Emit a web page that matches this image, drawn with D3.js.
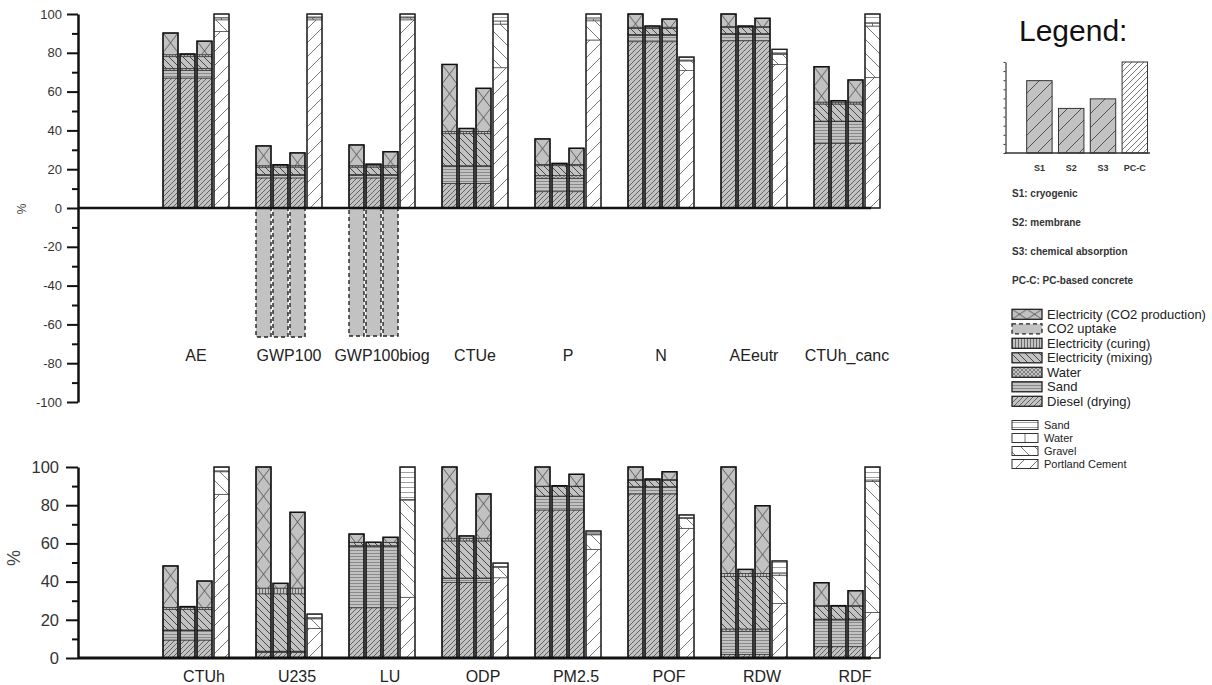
<!DOCTYPE html>
<html>
<head>
<meta charset="utf-8">
<style>
  body { margin: 0; background: #fff; }
  svg { font-family: 'Liberation Sans', Arial, sans-serif; }
</style>
</head>
<body>
<svg width="1212" height="685"></svg>
<script src="https://d3js.org/d3.v7.min.js"></script>
<script>
// ---- data (%) ----
const scenarios = ["S1", "S2", "S3", "PC-C"];

const topCategories = ["AE", "GWP100", "GWP100biog", "CTUe", "P", "N", "AEeutr", "CTUh_canc"];
// S1-S3 layers shared by the three scenarios (bottom to top)
const topDiesel  = [67, 15.5, 15.5, 12.7, 8.4, 85.7, 86.2, 33.3];
const topSand    = [4, 1.3, 1.3, 8.6, 6.9, 3.3, 3.3, 11.2];
const topWater   = [1, 0.5, 0.5, 0.5, 1.5, 0.5, 0.5, 0.3];
const topMixing  = [6, 3.8, 3.8, 16.5, 5, 3.1, 3, 8.8];
const topCuring  = [1, 0.7, 0.7, 1.2, 0.7, 0.6, 0.5, 1];
// Electricity (CO2 production) for [S1, S2, S3]
const topCO2Prod = [[11.2, 0.4, 7], [10.2, 0.5, 6.6], [10.7, 0.8, 7.2], [34.5, 1.5, 22.2],
                    [13.1, 0.5, 8.3], [6.8, 0.6, 4.2], [6.5, 0.3, 4.3], [18.2, 0.7, 11.4]];
const topUptake  = [0, -66.5, -66, 0, 0, 0, 0, 0];
// PC-based concrete
const topCement  = [91, 97, 97, 72.3, 86.6, 70.8, 74, 67.2];
const topGravel  = [6, 1, 1, 22.5, 9.9, 5, 5.2, 26.6];
const topPcWater = [1, 0.5, 0.5, 1.6, 1, 0.5, 0.5, 1.5];
const topPcSand  = [2, 1.5, 1.5, 3.6, 2.5, 1.5, 2.1, 4.7];

const botCategories = ["CTUh", "U235", "LU", "ODP", "PM2.5", "POF", "RDW", "RDF"];
const botDiesel  = [9.4, 3, 26.3, 39.6, 77.5, 85.9, 1.9, 5.9];
const botSand    = [4.9, 0.3, 32, 2.1, 7, 3.5, 11.9, 14];
const botWater   = [0.4, 0.3, 0.5, 0.2, 0.3, 0.3, 1.4, 0.5];
const botMixing  = [10.8, 30, 1.6, 19.4, 4.9, 3.3, 27.4, 6.5];
const botCuring  = [1, 3, 0.2, 1.4, 0.3, 0.5, 1.7, 0.5];
const botCO2Prod = [[21.7, 0.4, 13.8], [63.4, 2.5, 39.7], [4.3, 0, 2.6], [37.3, 1.2, 23.2],
                    [10, 0.2, 6.2], [6.5, 0.2, 4], [55.7, 2.1, 35.4], [12, 0, 7.8]];
const botUptake  = [0, 0, 0, 0, 0, 0, 0, 0];
const botCement  = [85.7, 15.5, 31.8, 42, 56.9, 67.9, 28.6, 23.9];
const botGravel  = [11.8, 5, 50.9, 5.5, 7.6, 5.2, 14.5, 68.5];
const botPcWater = [0.5, 0.5, 0.3, 0.5, 0.5, 0.3, 1, 0.8];
const botPcSand  = [2, 2, 17, 1.7, 1.5, 1.5, 6.7, 6.8];

// mini legend chart
const legendValues = [79.5, 49, 59.5, 100];
const legendNotes = ["S1: cryogenic", "S2: membrane", "S3: chemical absorption", "PC-C: PC-based concrete"];
const legendS  = ["Electricity (CO2 production)", "CO2 uptake", "Electricity (curing)",
                  "Electricity (mixing)", "Water", "Sand", "Diesel (drying)"];
const legendPC = ["Sand", "Water", "Gravel", "Portland Cement"];

// ---- patterns ----
let svg = d3.select("svg");
let defs = svg.append("defs");
const gray = "#c2c2c2";
let pid = 0;

function pattern(w, h, bg, d, stroke, sw, x, y) {
    let id = "p" + (pid++);
    let p = defs.append("pattern").attr("id", id)
        .attr("patternUnits", "userSpaceOnUse")
        .attr("width", w).attr("height", h)
        .attr("x", x || 0).attr("y", y || 0);
    p.append("rect").attr("width", w).attr("height", h).attr("fill", bg);
    if (d) p.append("path").attr("d", d).attr("fill", "none")
        .attr("stroke", stroke).attr("stroke-width", sw);
    return "url(#" + id + ")";
}

const fDiesel = pattern(5, 5, gray, "M-1,1L1,-1M0,5L5,0M4,6L6,4", "#4a4a4a", 0.8);
const fSand   = pattern(4, 3, gray, "M0,1.5H4", "#7a7a7a", 0.8);
const fWater  = pattern(4, 4, gray, "M0,0L4,4M4,0L0,4", "#555", 0.6);
const fMixing = pattern(7, 7, gray, "M0,0L7,7M-1,6L1,8M6,-1L8,1", "#3a3a3a", 0.9);
const fCuring = pattern(3, 3, gray, "M1.5,0V3", "#444", 0.7);
const fCement = pattern(14, 14, "#fff", "M0,14L14,0M-2,2L2,-2M12,16L16,12", "#555", 0.8);
const fGravel = pattern(14, 14, "#fff", "M0,0L14,14M-2,12L2,16M12,-2L16,2", "#555", 0.8);
const fPcSand = pattern(5, 5, "#fff", "M0,2.5H5", "#777", 0.7);
// bar-aligned patterns
const fCO2 = (x, y, w) => pattern(w, w * 1.3, gray, `M0,0L${w},${w * 1.3}M${w},0L0,${w * 1.3}`, "#444", 0.8, x, y);
const fPcWater = (x, w) => pattern(w, 10, "#fff", `M${w / 2},0V10`, "#555", 0.8, x, 0);

// ---- charts ----
let x1 = d3.scaleBand().domain(scenarios).range([13.5, 79.5]).paddingInner(2 / 17);

function drawChart(cfg) {
    let g = svg.append("g");
    let y = cfg.y;
    let x0 = d3.scaleBand().domain(cfg.cats).range([149.5, 893.5]);
    let bw = x1.bandwidth();

    cfg.cats.forEach((c, i) => {
        ["S1", "S2", "S3"].forEach((s, j) => {
            let bx = x0(c) + x1(s);
            let segs = [];
            let acc = 0;
            [[cfg.diesel, fDiesel], [cfg.sand, fSand], [cfg.water, fWater],
             [cfg.mixing, fMixing], [cfg.curing, fCuring]].forEach(([arr, f]) => {
                segs.push({ v0: acc, v1: acc + arr[i], fill: f });
                acc += arr[i];
            });
            let co2 = cfg.co2[i][j];
            if (co2 > 0) segs.push({ v0: acc, v1: acc + co2, fill: fCO2(bx, y(acc + co2), bw) });
            acc += co2;

            g.selectAll(null).data(segs.filter(d => d.v1 > d.v0)).join("rect")
                .attr("x", bx).attr("width", bw)
                .attr("y", d => y(d.v1)).attr("height", d => y(d.v0) - y(d.v1))
                .attr("fill", d => d.fill)
                .attr("stroke", "#333").attr("stroke-width", 0.7);
            g.append("rect").attr("x", bx).attr("width", bw)
                .attr("y", y(acc)).attr("height", y(0) - y(acc))
                .attr("fill", "none").attr("stroke", "#111").attr("stroke-width", 1.5);

            if (cfg.uptake[i] < 0) {
                g.append("rect").attr("x", bx).attr("width", bw)
                    .attr("y", y(0)).attr("height", y(cfg.uptake[i]) - y(0))
                    .attr("fill", gray).attr("stroke", "#222")
                    .attr("stroke-width", 1.4).attr("stroke-dasharray", "4,3");
            }
        });

        // PC-based concrete
        let bx = x0(c) + x1("PC-C");
        let segs = [];
        let acc = 0;
        [[cfg.cement, fCement], [cfg.gravel, fGravel], [cfg.pcWater, fPcWater(bx, bw)],
         [cfg.pcSand, fPcSand]].forEach(([arr, f]) => {
            segs.push({ v0: acc, v1: acc + arr[i], fill: f });
            acc += arr[i];
        });
        g.selectAll(null).data(segs.filter(d => d.v1 > d.v0)).join("rect")
            .attr("x", bx).attr("width", bw)
            .attr("y", d => y(d.v1)).attr("height", d => y(d.v0) - y(d.v1))
            .attr("fill", d => d.fill)
            .attr("stroke", "#444").attr("stroke-width", 0.7);
        g.append("rect").attr("x", bx).attr("width", bw)
            .attr("y", y(acc)).attr("height", y(0) - y(acc))
            .attr("fill", "none").attr("stroke", "#222").attr("stroke-width", 1.4);

        // category label
        g.append("text").attr("x", x0(c) + x0.bandwidth() / 2 + cfg.labelShift)
            .attr("y", cfg.labelY).attr("text-anchor", "middle")
            .attr("font-size", 16).attr("fill", "#222").text(c);
    });

    // zero line
    g.append("line").attr("x1", 78).attr("x2", 871)
        .attr("y1", y(0)).attr("y2", y(0))
        .attr("stroke", "#111").attr("stroke-width", cfg.zeroWidth);

    // y axis
    let [lo, hi] = y.domain();
    let major = g.append("g").attr("transform", "translate(78,0)")
        .call(d3.axisLeft(y).tickValues(d3.range(lo, hi + 1, 20))
            .tickSize(cfg.tick).tickPadding(cfg.tickPad).tickSizeOuter(0).tickFormat(d => d));
    major.select(".domain").attr("stroke", "#111").attr("stroke-width", 2.5);
    major.selectAll(".tick line").attr("stroke", "#111").attr("stroke-width", 2);
    major.selectAll(".tick text").attr("font-size", cfg.fontSize).attr("fill", "#333")
        .attr("font-family", "'Liberation Sans', Arial, sans-serif");
    let minor = g.append("g").attr("transform", "translate(78,0)")
        .call(d3.axisLeft(y).tickValues(d3.range(lo + 10, hi, 20)).tickSize(6).tickFormat(""));
    minor.select(".domain").remove();
    minor.selectAll(".tick line").attr("stroke", "#111").attr("stroke-width", 2);

    g.append("text").attr("transform", `translate(${cfg.pctX},${cfg.pctY}) rotate(-90)`)
        .attr("text-anchor", "middle").attr("font-size", cfg.pctSize).attr("fill", "#444").text("%");
}

drawChart({
    cats: topCategories, y: d3.scaleLinear().domain([-100, 100]).range([402, 14]),
    diesel: topDiesel, sand: topSand, water: topWater, mixing: topMixing, curing: topCuring,
    co2: topCO2Prod, uptake: topUptake,
    cement: topCement, gravel: topGravel, pcWater: topPcWater, pcSand: topPcSand,
    labelY: 361, labelShift: 0, zeroWidth: 2.5, tick: 11, tickPad: 5, fontSize: 13,
    pctX: 26, pctY: 209, pctSize: 12
});

drawChart({
    cats: botCategories, y: d3.scaleLinear().domain([0, 100]).range([658, 467]),
    diesel: botDiesel, sand: botSand, water: botWater, mixing: botMixing, curing: botCuring,
    co2: botCO2Prod, uptake: botUptake,
    cement: botCement, gravel: botGravel, pcWater: botPcWater, pcSand: botPcSand,
    labelY: 682, labelShift: 8, zeroWidth: 3, tick: 12, tickPad: 7, fontSize: 16.5,
    pctX: 20, pctY: 558, pctSize: 18
});

// ---- legend ----
let leg = svg.append("g");
leg.append("text").attr("x", 1019).attr("y", 41).attr("font-size", 30)
    .attr("fill", "#111").text("Legend:");

let ly = d3.scaleLinear().domain([0, 100]).range([153, 62]);
let lx = d3.scaleBand().domain(scenarios).range([1023.5, 1150.7]).paddingInner(0.2).paddingOuter(0.1);
const fLegS  = pattern(14, 14, gray, "M0,14L14,0M-2,2L2,-2M12,16L16,12", "#333", 0.8);
const fLegPC = pattern(6, 6, "#fff", "M0,6L6,0M-1,1L1,-1M5,7L7,5", "#555", 0.8);

leg.selectAll(".lbar").data(scenarios).join("rect")
    .attr("x", d => lx(d)).attr("width", lx.bandwidth())
    .attr("y", (d, i) => ly(legendValues[i])).attr("height", (d, i) => ly(0) - ly(legendValues[i]))
    .attr("fill", d => d === "PC-C" ? fLegPC : fLegS)
    .attr("stroke", "#333").attr("stroke-width", 1);
let la = leg.append("g").attr("transform", "translate(1005.5,0)")
    .call(d3.axisLeft(ly).tickValues(d3.range(0, 101, 10)).tickSize(2).tickSizeOuter(0).tickFormat(""));
la.select(".domain").attr("stroke", "#333").attr("stroke-width", 1.2);
la.selectAll(".tick line").attr("stroke", "#333");
leg.append("line").attr("x1", 1005).attr("x2", 1150).attr("y1", 153).attr("y2", 153)
    .attr("stroke", "#333").attr("stroke-width", 1.5);
leg.selectAll(".lt").data(scenarios).join("text")
    .attr("x", d => lx(d) + lx.bandwidth() / 2).attr("y", 170.5)
    .attr("text-anchor", "middle").attr("font-size", 9).attr("font-weight", "bold")
    .attr("fill", "#333").text(d => d);

leg.selectAll(".note").data(legendNotes).join("text")
    .attr("x", 1012).attr("y", (d, i) => 197 + i * 29)
    .attr("font-size", 10).attr("font-weight", "bold").attr("fill", "#333").text(d => d);

// pattern key for S1-S3
const sFills = [null, "uptake", fCuring, fMixing, fWater, fSand, fDiesel];
legendS.forEach((name, k) => {
    let cy = 314.3 + k * 14.5;
    let f = sFills[k];
    let r = leg.append("rect").attr("x", 1012).attr("y", cy - 5).attr("width", 30).attr("height", 10)
        .attr("stroke", "#222").attr("stroke-width", 1.3);
    if (f === null) r.attr("fill", pattern(15, 10, gray, "M0,0L15,10M15,0L0,10", "#444", 0.8, 1012, cy - 5));
    else if (f === "uptake") r.attr("fill", gray).attr("stroke-dasharray", "4,3");
    else r.attr("fill", f);
    leg.append("text").attr("x", 1047).attr("y", cy + 4.5).attr("font-size", 13)
        .attr("fill", "#222").text(name);
});

// pattern key for PC-C
const pcFills = [fPcSand, fPcWater(1012, 26), fGravel, fCement];
legendPC.forEach((name, k) => {
    let cy = 425 + k * 13;
    leg.append("rect").attr("x", 1012).attr("y", cy - 4.5).attr("width", 26).attr("height", 9)
        .attr("fill", pcFills[k]).attr("stroke", "#333").attr("stroke-width", 1);
    leg.append("text").attr("x", 1044).attr("y", cy + 4).attr("font-size", 11)
        .attr("fill", "#222").text(name);
});
</script>
</body>
</html>
